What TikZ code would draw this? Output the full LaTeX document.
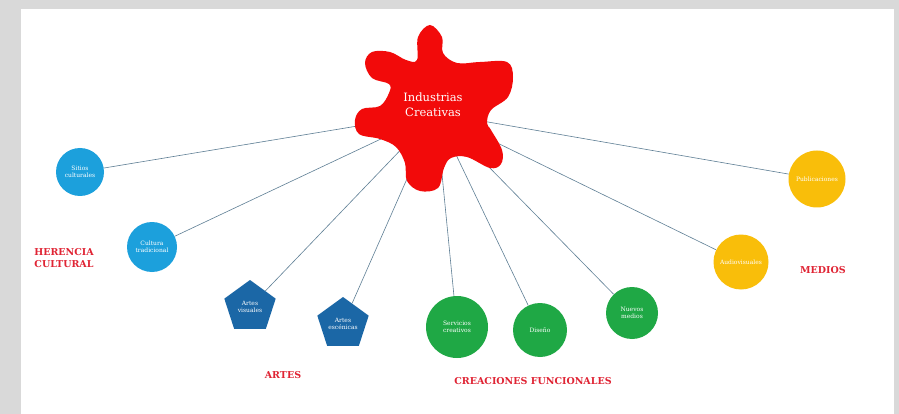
\documentclass[tikz,border=0pt]{standalone}
\usepackage{fontspec}
\setmainfont{DejaVu Serif}
\usetikzlibrary{shapes.geometric,backgrounds}

\definecolor{splat}{HTML}{F20A0A}
\definecolor{celeste}{HTML}{1CA0DC}
\definecolor{azul}{HTML}{1B67A6}
\definecolor{verde}{HTML}{1FA845}
\definecolor{amarillo}{HTML}{F9BE0A}
\definecolor{rotulo}{HTML}{E02434}
\definecolor{linea}{HTML}{5F7F95}

\tikzset{
  bolita/.style={circle, text=white, inner sep=1pt, align=center,
    font=\fontsize{6}{7}\selectfont},
  penta/.style={regular polygon, regular polygon sides=5, fill=azul,
    minimum size=54pt, text=white, inner sep=0pt, align=center,
    font=\fontsize{6}{7}\selectfont},
  grupo/.style={text=rotulo, align=center, font=\fontsize{9.5}{12}\selectfont\bfseries},
  rama/.style={draw=linea, line width=0.6pt}
}

\begin{document}
\begin{tikzpicture}[x=1pt, y=-1pt]
        \useasboundingbox (0,0) rectangle (899,414);

        % mancha central
        \fill[splat] plot[smooth cycle, tension=0.6] coordinates {
          (417,60) (418,37) (430,25) (442,37) (443,53) (457,63) (480,62)
          (507,62) (513,77) (508,97) (491,110) (487,123) (491,130) (502,150)
          (501,164) (490,168) (467,157) (451,158) (444,168) (438,188)
          (420,191) (407,181) (405,163) (396,147) (380,139) (359,134)
          (355,120) (362,109) (380,106) (389,93) (389,84) (372,78)
          (365,63) (372,52) (390,52) (406,60)};
        \node[text=white, align=center, font=\fontsize{11.5}{15}\selectfont] (ic) at (433,105) {Industrias\\ Creativas};
        \coordinate (hub) at (436,113);

        % herencia cultural
        \node[bolita, fill=celeste, minimum size=48pt] (sitios) at (80,172) {Sitios\\ culturales};
        \node[bolita, fill=celeste, minimum size=50pt] (cultura) at (152,247) {Cultura\\ tradicional};
        \node[grupo] (herencia) at (64,258) {HERENCIA\\ CULTURAL};

        % artes
        \node[penta] (visuales) at (250,307) {Artes\\ visuales};
        \node[penta] (escenicas) at (343,324) {Artes\\ escénicas};
        \node[grupo] (artes) at (283,375) {ARTES};

        % creaciones funcionales
        \node[bolita, fill=verde, minimum size=62pt] (servicios) at (457,327) {Servicios\\ creativos};
        \node[bolita, fill=verde, minimum size=54pt] (diseno) at (540,330) {Diseño};
        \node[bolita, fill=verde, minimum size=52pt] (nuevos) at (632,313) {Nuevos\\ medios};
        \node[grupo] (creaciones) at (533,381) {CREACIONES FUNCIONALES};

        % medios
        \node[bolita, fill=amarillo, minimum size=55pt] (audio) at (741,262) {Audiovisuales};
        \node[bolita, fill=amarillo, minimum size=57pt] (publi) at (817,179) {Publicaciones};
        \node[grupo] (medios) at (823,270) {MEDIOS};

        % fondo y ramas
        \begin{pgfonlayer}{background}
          \fill[black!15] (0,0) rectangle (899,414);
          \fill[white] (21,9) rectangle (894,414);
          \foreach \n in {sitios, cultura, visuales, escenicas, servicios, diseno, nuevos, audio, publi}
            \draw[rama] (hub) -- (\n);
        \end{pgfonlayer}
\end{tikzpicture}
\end{document}
